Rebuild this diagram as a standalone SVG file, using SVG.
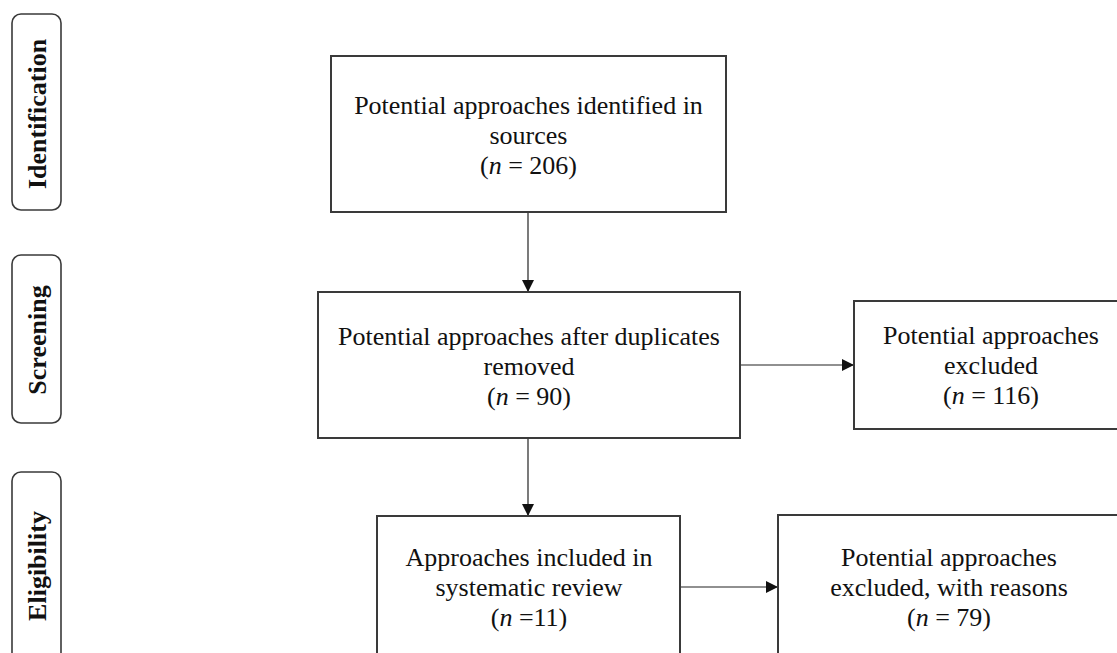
<svg xmlns="http://www.w3.org/2000/svg" width="1117" height="653" viewBox="0 0 1117 653">
<style>
.box{fill:#fff;stroke:#3a3a3a;stroke-width:2}
.side{fill:#fff;stroke:#3a3a3a;stroke-width:1.6}
.t{font-family:"Liberation Serif","Times New Roman",serif;font-size:26px;fill:#111;text-anchor:middle}
.s{font-family:"Liberation Serif","Times New Roman",serif;font-size:26px;font-weight:bold;fill:#111;text-anchor:middle}
.c{stroke:#222;stroke-width:1.2;fill:none;marker-end:url(#ah)}
</style>
<defs>
<marker id="ah" viewBox="0 0 10 10" refX="10" refY="5" markerWidth="12" markerHeight="12" markerUnits="userSpaceOnUse" orient="auto">
<path d="M0,0 L10,5 L0,10 z" fill="#111"/>
</marker>
</defs>
<rect width="1117" height="653" fill="#fff"/>
<g id="side-identification">
<rect class="side" x="12" y="14" width="49" height="196" rx="9"/>
<text class="s" transform="translate(46,114) rotate(-90)">Identification</text>
</g>
<g id="side-screening">
<rect class="side" x="12" y="255" width="49" height="168" rx="9"/>
<text class="s" transform="translate(46,340) rotate(-90)">Screening</text>
</g>
<g id="side-eligibility">
<rect class="side" x="12" y="472" width="49" height="190" rx="9"/>
<text class="s" transform="translate(46,566) rotate(-90)">Eligibility</text>
</g>
<g id="connectors">
<line class="c" x1="528" y1="212" x2="528" y2="292"/>
<line class="c" x1="528" y1="438" x2="528" y2="516"/>
<line class="c" x1="740" y1="365" x2="854" y2="365"/>
<line class="c" x1="680" y1="587" x2="778" y2="587"/>
</g>
<g id="n1">
<rect class="box" x="331" y="56" width="395" height="156"/>
<text class="t" x="528.5" y="114">Potential approaches identified in</text>
<text class="t" x="528.5" y="144">sources</text>
<text class="t" x="528.5" y="174">(<tspan font-style="italic">n</tspan> = 206)</text>
</g>
<g id="n2">
<rect class="box" x="318" y="292" width="422" height="146"/>
<text class="t" x="529" y="345">Potential approaches after duplicates</text>
<text class="t" x="529" y="375">removed</text>
<text class="t" x="529" y="405">(<tspan font-style="italic">n</tspan> = 90)</text>
</g>
<g id="n3">
<rect class="box" x="854" y="301" width="274" height="128"/>
<text class="t" x="991" y="344">Potential approaches</text>
<text class="t" x="991" y="374">excluded</text>
<text class="t" x="991" y="404">(<tspan font-style="italic">n</tspan> = 116)</text>
</g>
<g id="n4">
<rect class="box" x="377" y="516" width="303" height="160"/>
<text class="t" x="529" y="566">Approaches included in</text>
<text class="t" x="529" y="596">systematic review</text>
<text class="t" x="529" y="626">(<tspan font-style="italic">n</tspan> =11)</text>
</g>
<g id="n5">
<rect class="box" x="778" y="515" width="342" height="160"/>
<text class="t" x="949" y="566">Potential approaches</text>
<text class="t" x="949" y="596">excluded, with reasons</text>
<text class="t" x="949" y="626">(<tspan font-style="italic">n</tspan> = 79)</text>
</g>
</svg>
